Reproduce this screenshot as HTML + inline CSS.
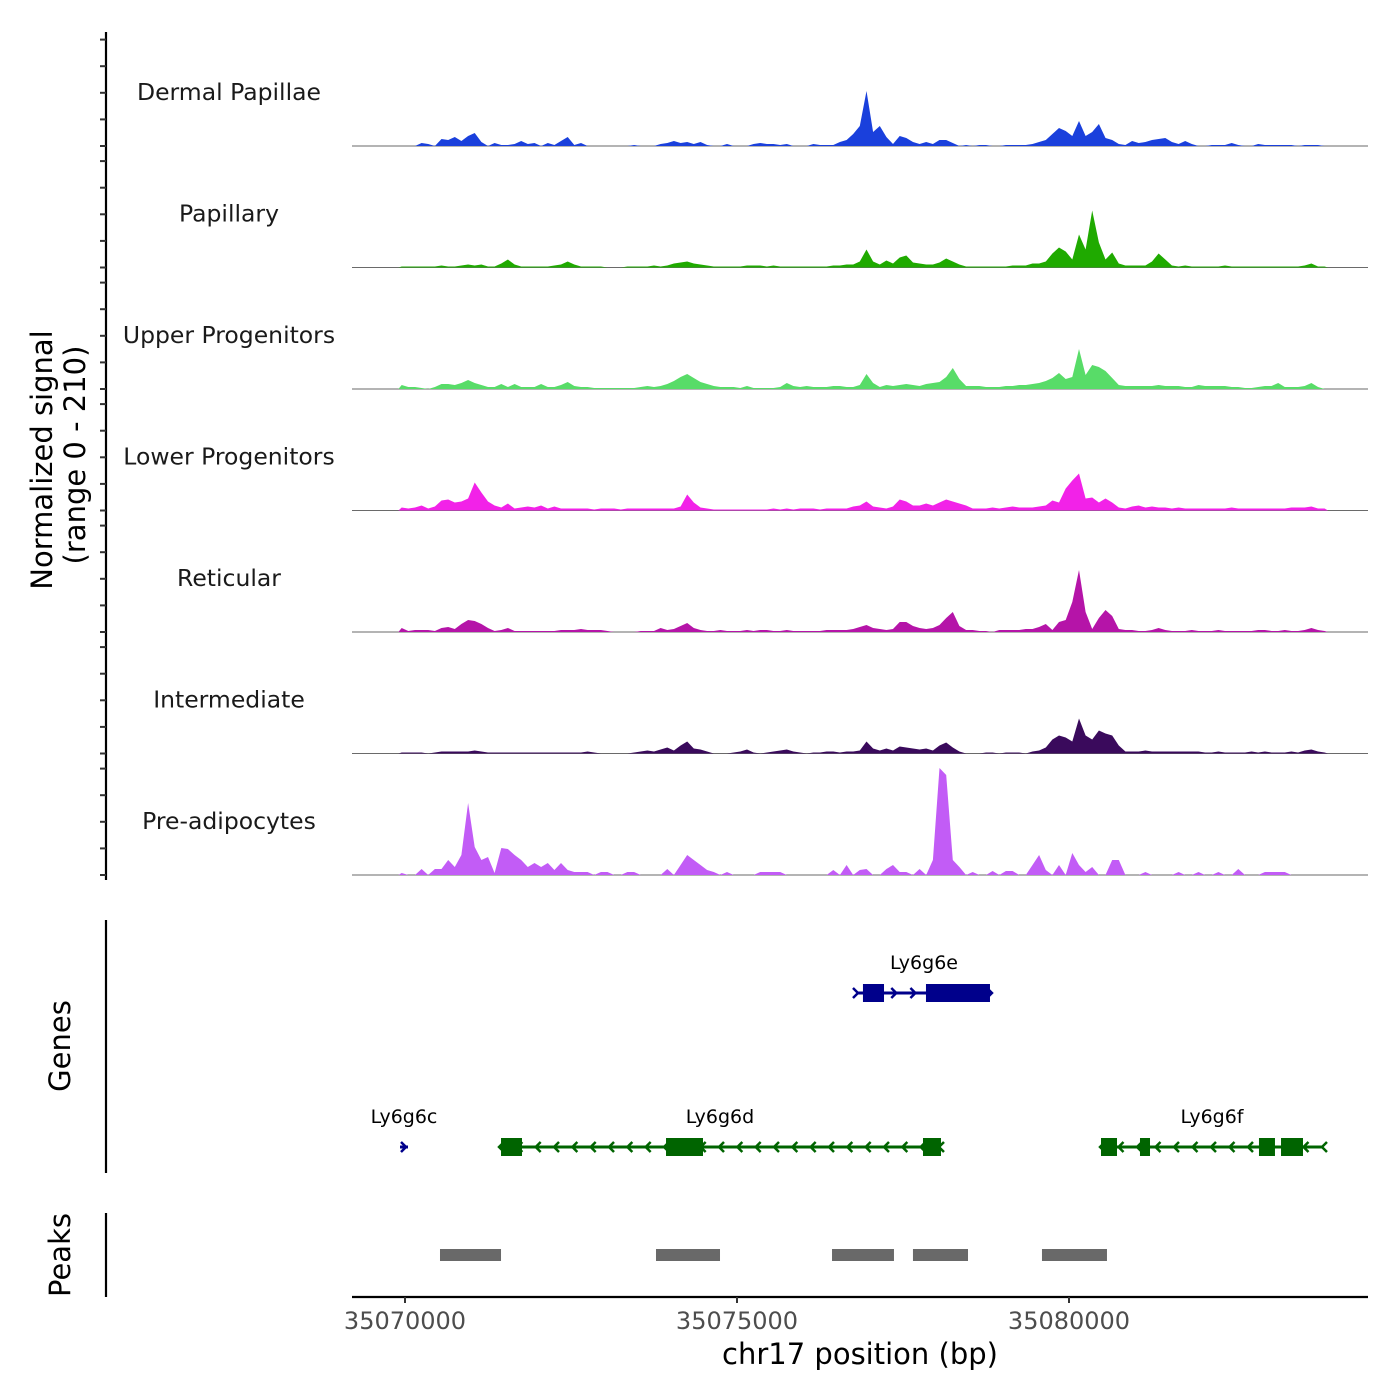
<!DOCTYPE html>
<html><head><meta charset="utf-8"><style>
html,body{margin:0;padding:0;background:#fff;}
svg{display:block;font-family:"DejaVu Sans","Liberation Sans",sans-serif;}
</style></head><body>
<svg id="chart" width="1400" height="1400" viewBox="0 0 1400 1400" xmlns="http://www.w3.org/2000/svg">
<g id="tracks"></g>
<g id="genes"></g>
<g id="peaks"></g>
<g id="axes"></g>
</svg>
<script>
const regionStart = 35070000;
const binStart = 35069900;
const binSize = 100;
const trackNames = ["Dermal Papillae","Papillary","Upper Progenitors","Lower Progenitors","Reticular","Intermediate","Pre-adipocytes"];
const trackColors = ["#1a40dc","#1faa00","#58dc68","#f222e8","#b514a8","#3a0a5c","#c25cf6"];
const dermalPapillae = [0,0,0,3,2,0,7,6,9,5,10,13,4,0,3,1,1,2,5,2,3,0,3,1,5,9,1,3,0,0,0,0,0,0,0,1,0,0,0,2,3,5,3,4,2,4,1,0,0,2,0,0,0,2,3,2,2,1,2,0,0,0,2,1,1,1,4,6,12,20,55,14,20,9,2,10,8,4,2,4,2,6,6,3,0,1,0,1,1,0,0,1,1,1,1,2,4,6,12,18,15,10,25,10,14,22,8,6,2,1,5,3,4,6,7,8,4,2,5,2,0,0,1,1,1,3,1,0,0,2,1,1,1,1,1,0,1,1,1,0];
const papillary = [1,1,1,1,1,1,2,1,1,2,3,2,3,1,1,4,8,3,1,1,1,1,1,2,3,6,3,1,1,1,1,0,0,0,1,1,1,1,2,1,2,4,5,6,4,3,2,1,1,1,1,1,2,2,2,1,2,1,1,1,1,1,1,1,1,2,2,3,3,6,18,6,3,7,4,10,12,5,4,3,3,5,9,6,3,1,1,1,1,1,1,1,2,2,2,4,4,6,14,20,16,8,33,18,57,25,8,15,4,2,2,2,2,6,14,8,2,1,2,1,1,1,1,1,2,1,1,1,1,1,1,1,1,1,1,1,2,4,1,1];
const upperProgenitors = [4,2,2,1,0,2,5,5,4,6,9,6,4,2,2,5,2,5,2,2,2,5,2,2,4,7,3,2,2,1,1,1,1,1,1,1,2,3,2,3,5,8,12,15,11,7,5,3,2,2,2,1,3,1,1,1,1,2,6,3,2,3,2,2,2,3,3,2,2,4,15,6,2,4,3,4,5,4,3,5,6,7,12,21,10,3,3,3,2,2,2,3,3,4,4,5,6,8,11,16,10,12,40,14,24,22,18,11,4,3,3,3,3,3,4,3,3,3,2,2,4,3,3,3,3,2,2,1,1,2,3,3,6,2,2,2,3,6,2,0];
const lowerProgenitors = [3,2,3,5,2,4,10,11,8,9,12,28,18,9,5,3,7,2,3,4,3,5,2,4,2,2,2,2,2,1,2,2,2,1,2,2,2,2,2,2,2,2,4,16,8,3,2,1,1,1,1,1,1,1,1,1,2,1,2,1,2,2,2,1,2,2,2,2,4,5,9,4,3,2,4,11,9,5,5,7,5,8,11,9,7,5,2,2,2,3,2,3,4,3,3,3,4,5,10,8,22,30,37,12,13,8,12,8,3,2,4,5,3,4,3,3,2,3,2,2,2,2,2,2,2,3,2,2,2,2,2,2,2,2,3,3,3,4,2,2];
const reticular = [4,1,2,2,2,1,4,5,3,8,12,11,8,4,1,2,4,1,1,1,1,1,1,1,2,2,2,3,2,2,2,1,0,0,0,0,1,1,1,4,2,3,6,9,4,2,1,1,2,1,1,1,2,1,2,2,1,1,2,1,1,1,1,1,2,2,2,2,3,5,7,4,3,2,3,10,10,6,4,3,4,7,14,20,6,2,2,1,1,0,2,2,2,2,3,3,5,8,2,10,12,30,62,20,3,14,22,16,3,2,2,1,1,2,4,2,1,1,1,2,1,1,1,2,1,1,1,1,1,2,2,1,1,2,1,1,2,4,2,1];
const intermediate = [1,1,1,1,0,1,2,2,2,2,2,3,2,1,1,1,1,1,1,1,1,1,1,1,1,1,1,1,2,1,0,0,0,0,0,1,2,3,2,4,6,3,8,12,5,4,2,0,0,0,1,2,4,1,0,1,2,3,4,2,1,0,1,1,2,2,1,2,2,3,12,5,3,5,3,7,6,5,4,5,3,8,11,6,2,0,0,0,1,1,0,1,1,1,0,2,3,6,14,18,16,12,35,18,14,23,20,18,8,2,2,2,3,2,2,2,2,2,2,2,2,1,1,2,1,1,1,1,2,1,2,1,1,1,2,1,3,4,2,1];
const preAdipocytes = [2,0,0,6,0,6,6,15,8,20,72,28,15,18,2,27,26,20,15,8,12,8,12,5,12,5,3,3,3,0,3,3,0,0,3,3,0,0,0,0,6,0,10,20,15,10,5,3,0,3,0,0,0,0,3,3,3,3,0,0,0,0,0,0,0,5,0,10,0,5,6,0,0,6,10,3,3,0,6,0,15,107,100,15,8,0,3,0,0,4,0,4,4,0,0,10,20,5,0,10,0,22,10,3,8,0,0,15,15,0,0,0,3,0,0,0,0,3,0,0,3,0,0,3,0,0,6,0,0,0,3,3,3,3,0,0,0,0,0,0];
const trackValues = [dermalPapillae,papillary,upperProgenitors,lowerProgenitors,reticular,intermediate,preAdipocytes];
const yTickValues = [0,26.6,53.2,79.8,106.4];
const xTickValues = [35070000,35075000,35080000];
const xTickLabels = ["35070000","35075000","35080000"];
const geneNames = ["Ly6g6e","Ly6g6c","Ly6g6d","Ly6g6f"];
const geneStarts = [35076807,35069925,35071431,35080482];
const geneEnds = [35078825,35070045,35078057,35083825];
const geneStrands = ["+","+","-","-"];
const geneRows = [0,1,1,1];
const geneExons = [[[35076897,35077214],[35077846,35078810]],[],[[35071446,35071762],[35073931,35074488],[35077801,35078072]],[[35080482,35080723],[35081069,35081220],[35082861,35083102],[35083193,35083524]]];
const peakStarts = [35070527,35073780,35076431,35077650,35079593];
const peakEnds = [35071446,35074744,35077364,35078479,35080572];

const NS="http://www.w3.org/2000/svg";
function mk(tag,attrs,parent){const e=document.createElementNS(NS,tag);for(const k in attrs)e.setAttribute(k,attrs[k]);parent.appendChild(e);return e;}
function xs(bp){return 405+(bp-regionStart)*0.0664;}
const trackBase0=146, trackStep=121.5;
function ys(t,v){return trackBase0+t*trackStep - v;}

const gT=document.getElementById('tracks');
trackValues.forEach((vals,t)=>{
  const base=ys(t,0);
  const lbl=mk('text',{x:229,y:base-46,'text-anchor':'middle','font-size':23.5,fill:'#1a1a1a'},gT);
  
  
  lbl.textContent=trackNames[t];
  const bl=mk('line',{x1:352,x2:1368,y1:base,y2:base,stroke:'#6a6a6a','stroke-width':1},gT);
  
  
  let d='M'+xs(binStart).toFixed(1)+','+base;
  vals.forEach((v,i)=>{
    const b0=binStart+i*binSize;
    d+=' L'+xs(b0+binSize/2).toFixed(1)+','+ys(t,v);
  });
  d+=' L'+xs(binStart+vals.length*binSize).toFixed(1)+','+base+' Z';
  const p=mk('path',{d:d,fill:trackColors[t],stroke:'none'},gT);
  
  
});

const gA=document.getElementById('axes');
let ax=mk('line',{x1:106,x2:106,y1:32,y2:880,stroke:'#000','stroke-width':2.2},gA);


for(let t=0;t<7;t++){
  yTickValues.forEach(v=>{
    const tk=mk('line',{x1:100,x2:106,y1:ys(t,v),y2:ys(t,v),stroke:'#333','stroke-width':2},gA);
    
    
  });
}
let yt=mk('text',{transform:'translate(52,460) rotate(-90)','text-anchor':'middle','font-size':29,fill:'#000'},gA);


yt.textContent='Normalized signal';
let yt2=mk('text',{transform:'translate(85,455) rotate(-90)','text-anchor':'middle','font-size':29,fill:'#000'},gA);


yt2.textContent='(range 0 - 210)';
let ga=mk('line',{x1:106,x2:106,y1:920,y2:1173,stroke:'#000','stroke-width':2.2},gA);


let gt=mk('text',{transform:'translate(70,1046) rotate(-90)','text-anchor':'middle','font-size':29,fill:'#000'},gA);


gt.textContent='Genes';
let pa=mk('line',{x1:106,x2:106,y1:1213,y2:1297,stroke:'#000','stroke-width':2.2},gA);


let pt=mk('text',{transform:'translate(70,1255) rotate(-90)','text-anchor':'middle','font-size':29,fill:'#000'},gA);


pt.textContent='Peaks';
let xa=mk('line',{x1:352,x2:1368,y1:1297,y2:1297,stroke:'#000','stroke-width':2.2},gA);


xTickValues.forEach((v,i)=>{
  const tk=mk('line',{x1:xs(v),x2:xs(v),y1:1297,y2:1303,stroke:'#333','stroke-width':2},gA);
  
  
  const tl=mk('text',{x:xs(v),y:1329,'text-anchor':'middle','font-size':24,fill:'#4d4d4d'},gA);
  
  
  tl.textContent=xTickLabels[i];
});
let xt=mk('text',{x:860,y:1364,'text-anchor':'middle','font-size':29,fill:'#000'},gA);


xt.textContent='chr17 position (bp)';

const gG=document.getElementById('genes');
const rowY=[993,1147];
geneNames.forEach((name,g)=>{
  const y=rowY[geneRows[g]];
  const col=geneStrands[g]==='+'?'#00008b':'#006400';
  const x0=xs(geneStarts[g]), x1=xs(geneEnds[g]);
  const grp=mk('g',{},gG);
  
  
  mk('line',{x1:x0,x2:x1,y1:y,y2:y,stroke:col,'stroke-width':3},grp);
  const dir=geneStrands[g]==='+'?1:-1;
  const n=Math.floor((x1-x0)/18);
  if(n<1){
    const cx=(x0+x1)/2;
    mk('polyline',{points:(cx-3*dir)+','+(y-5)+' '+(cx+dir*2)+','+y+' '+(cx-3*dir)+','+(y+5),fill:'none',stroke:col,'stroke-width':2.5},grp);
  } else {
    for(let k=0;k<=n;k++){
      const cx=x0+(x1-x0)*k/n;
      mk('polyline',{points:(cx-4*dir)+','+(y-5)+' '+(cx+dir*1)+','+y+' '+(cx-4*dir)+','+(y+5),fill:'none',stroke:col,'stroke-width':2.5},grp);
    }
  }
  geneExons[g].forEach(e=>{
    const r=mk('rect',{x:xs(e[0]),y:y-9,width:xs(e[1])-xs(e[0]),height:18,fill:col},grp);
    
    
  });
  const tl=mk('text',{x:(x0+x1)/2,y:y-24,'text-anchor':'middle','font-size':19,fill:'#000'},grp);
  
  
  tl.textContent=name;
});

const gP=document.getElementById('peaks');
peakStarts.forEach((s,i)=>{
  const r=mk('rect',{x:xs(s),y:1249,width:xs(peakEnds[i])-xs(s),height:12,fill:'#696969'},gP);
  
  
});
</script>
</body></html>
